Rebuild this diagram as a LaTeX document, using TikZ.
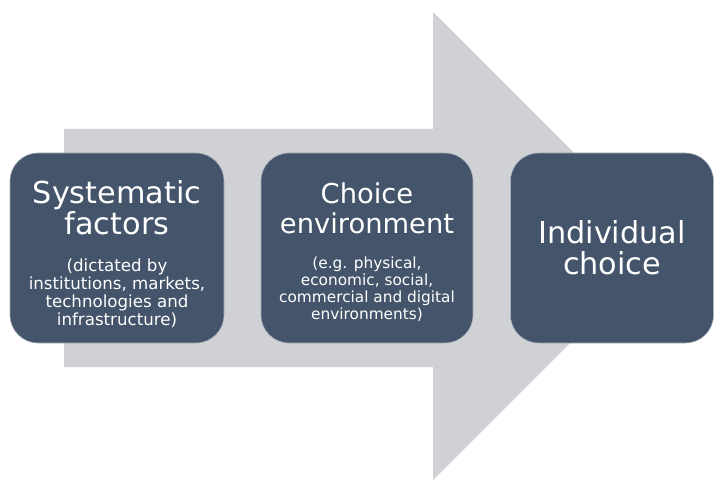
\documentclass[tikz,border=0pt]{standalone}
\usepackage{fontspec}
\setmainfont{DejaVu Sans}
\usetikzlibrary{positioning}
\definecolor{slate}{HTML}{44546A}
\definecolor{arrowgray}{HTML}{D0D1D4}
\tikzset{box/.style={fill=slate, draw=white!55!slate, line width=0.4pt, rounded corners=21pt, minimum height=142.5pt, inner sep=0pt}}
\tikzset{txt/.style={text=white, align=center, inner sep=0pt}}
\tikzset{big/.style={font=\fontsize{22.7}{23.3}\selectfont}}
\tikzset{bigs/.style={font=\fontsize{20.5}{22.5}\selectfont}}
\tikzset{small/.style={font=\fontsize{12.5}{13.3}\selectfont}}
\tikzset{smalls/.style={font=\fontsize{11.5}{12.8}\selectfont}}

\begin{document}
\begin{tikzpicture}[x=0.75pt, y=-0.75pt]
  \useasboundingbox (0,0) rectangle (714,481);
  % the wide arrow behind the boxes
  \fill[arrowgray] (64,129) -- (433,129) -- (433,12) -- (667,246) -- (433,480) -- (433,367) -- (64,367) -- cycle;

  \node[box, minimum width=160.5pt] (S) at (117,248) {};
  \node[box, minimum width=159pt] (E) at (367,248) {};
  \node[box, minimum width=152.25pt] (I) at (612,248) {};

  \node[txt, big, anchor=north] (St) at (117,180) {Systematic\\factors};
  \node[txt, small, below=18pt of St] (Sn) {(dictated by\\institutions, markets,\\technologies and\\infrastructure)};

  \node[txt, bigs, anchor=north] (Et) at (367,182) {Choice\\environment};
  \node[txt, smalls, below=17pt of Et] (En) {(e.g. physical,\\economic, social,\\commercial and digital\\environments)};

  \node[txt, big, anchor=north] (It) at (612,220) {Individual\\choice};
\end{tikzpicture}
\end{document}
